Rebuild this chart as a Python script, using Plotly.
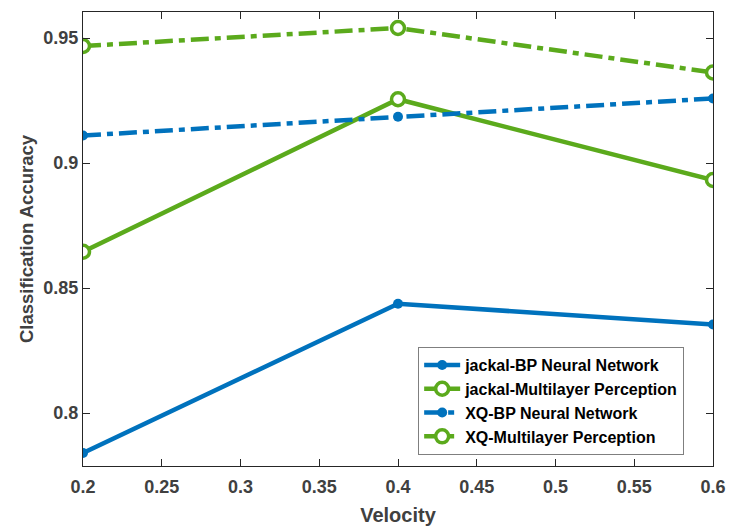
import plotly.graph_objects as go

velocity = [0.2, 0.4, 0.6]
jackal_bp = [0.7840, 0.8437, 0.8354]
jackal_mlp = [0.8645, 0.9255, 0.8932]
xq_bp = [0.9110, 0.9185, 0.9258]
xq_mlp = [0.9468, 0.9540, 0.9362]

series_names = ["jackal-BP Neural Network", "jackal-Multilayer Perception",
                "XQ-BP Neural Network", "XQ-Multilayer Perception"]
x_ticks = [0.2, 0.25, 0.3, 0.35, 0.4, 0.45, 0.5, 0.55, 0.6]
x_tick_labels = ["0.2", "0.25", "0.3", "0.35", "0.4", "0.45", "0.5", "0.55", "0.6"]
y_ticks = [0.8, 0.85, 0.9, 0.95]
y_tick_labels = ["0.8", "0.85", "0.9", "0.95"]

BLUE = "#0072BD"
GREEN = "#5BAA1C"
FONT = "Liberation Sans, Arial, sans-serif"

fig = go.Figure()
fig.add_trace(go.Scatter(x=velocity, y=jackal_bp, name=series_names[0], mode="lines+markers",
                         line=dict(color=BLUE, width=4.5),
                         marker=dict(symbol="circle", size=10, color=BLUE)))
fig.add_trace(go.Scatter(x=velocity, y=jackal_mlp, name=series_names[1], mode="lines+markers",
                         line=dict(color=GREEN, width=4.5),
                         marker=dict(symbol="circle", size=13, color="white",
                                     line=dict(color=GREEN, width=3.5))))
fig.add_trace(go.Scatter(x=velocity, y=xq_bp, name=series_names[2], mode="lines+markers",
                         line=dict(color=BLUE, width=4.5, dash="18px,6px,6px,6px"),
                         marker=dict(symbol="circle", size=10, color=BLUE)))
fig.add_trace(go.Scatter(x=velocity, y=xq_mlp, name=series_names[3], mode="lines+markers",
                         line=dict(color=GREEN, width=4.5, dash="18px,6px,6px,6px"),
                         marker=dict(symbol="circle", size=13, color="white",
                                     line=dict(color=GREEN, width=3.5))))

common = dict(showgrid=False, zeroline=False, showline=True, linecolor="#262626", linewidth=1.2,
              mirror="ticks", ticks="inside", ticklen=7, tickcolor="#262626", tickwidth=1,
              automargin=False)

fig.update_xaxes(range=[0.2, 0.6], tickvals=x_ticks, ticktext=x_tick_labels,
                 tickfont=dict(family=FONT, size=18, color="#404040", weight="bold"),
                 ticklabelstandoff=4,
                 title=dict(text="<b>Velocity</b>", font=dict(family=FONT, size=20, color="#404040"),
                            standoff=14),
                 **common)
fig.update_yaxes(range=[0.7788, 0.9604], tickvals=y_ticks, ticktext=y_tick_labels,
                 tickfont=dict(family=FONT, size=18, color="#404040", weight="bold"),
                 title=dict(text="<b>Classification Accuracy</b>", font=dict(family=FONT, size=18.5, color="#404040"),
                            standoff=4),
                 **common)

fig.update_layout(
    width=730, height=526,
    margin=dict(l=83, r=17, t=12, b=60),
    plot_bgcolor="white", paper_bgcolor="white",
    legend=dict(x=0.532, y=0.262, xanchor="left", yanchor="top",
                bgcolor="white", bordercolor="#7f7f7f", borderwidth=1,
                font=dict(family=FONT, size=16, color="black", weight="bold"),
                tracegroupgap=0, itemwidth=36),
    showlegend=True,
)

fig.write_html("out.html")
